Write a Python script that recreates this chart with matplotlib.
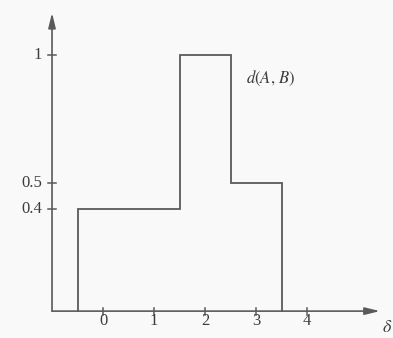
import matplotlib
matplotlib.use("Agg")
import matplotlib.pyplot as plt
import numpy as np

# step function d(A, B)
edges = [-0.5, 1.5, 2.5, 3.5]
levels = [0.4, 1.0, 0.5]
xticks = [0, 1, 2, 3, 4]
yticks = [0.4, 0.5, 1.0]
ytick_labels = ['0.4', '0.5', '1']

plt.rcParams['font.family'] = ['Liberation Serif', 'DejaVu Serif']
plt.rcParams['mathtext.fontset'] = 'stix'
ink = '#5a5a5a'
txt = '#3c3c3c'

fig = plt.figure(figsize=(3.93, 3.38), dpi=100)
fig.patch.set_facecolor('#f9f9f9')
ax = fig.add_axes([0, 0, 1, 1])
ax.set_facecolor('#f9f9f9')
ax.set_xlim(-2.02, 5.686)
ax.set_ylim(-0.105, 1.215)
ax.axis('off')

x0, y0 = -1.0, 0.0

# axes with arrows
arrow = dict(arrowstyle='-|>,head_length=0.9,head_width=0.22', color=ink, lw=1.2, shrinkA=0, shrinkB=0)
ax.annotate('', xy=(5.43, y0), xytext=(x0, y0), arrowprops=arrow)
ax.annotate('', xy=(x0, 1.165), xytext=(x0, y0), arrowprops=arrow)

# step outline
xs = [edges[0]]
ys = [0.0]
for i, lv in enumerate(levels):
    xs += [edges[i], edges[i + 1]]
    ys += [lv, lv]
xs.append(edges[-1])
ys.append(0.0)
ax.plot(xs, ys, color=ink, lw=1.3, solid_joinstyle='miter')

# ticks
tx = 3 / 51  # ~3 px in data units (x)
ty = 3 / 256
for t in xticks:
    ax.plot([t, t], [-ty * 1.2, ty * 1.2], color=ink, lw=1.1)
    ax.text(t, -0.037, str(t), ha='center', va='center', fontsize=12, color=txt)
for t, lab in zip(yticks, ytick_labels):
    ax.plot([x0 - tx * 1.3, x0 + tx * 1.3], [t, t], color=ink, lw=1.1)
    ax.text(x0 - 0.2, t, lab, ha='right', va='center', fontsize=12, color=txt)

ax.text(5.58, -0.065, r'$\delta$', ha='center', va='center', fontsize=13, color=txt)
ax.text(2.8, 0.91, r'$d(A,\,B)$', ha='left', va='center', fontsize=12, color=txt)

fig.savefig('out.png', dpi=100, facecolor=fig.get_facecolor())
